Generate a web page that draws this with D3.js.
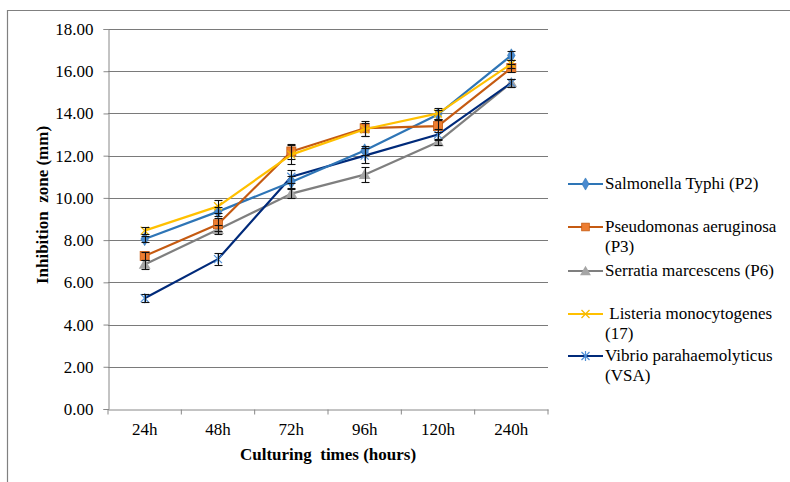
<!DOCTYPE html>
<html><head><meta charset="utf-8">
<script src="https://cdn.jsdelivr.net/npm/d3@7"></script>
<style>body{margin:0;background:#fff}svg{display:block}svg text{font-family:"Liberation Serif","Times New Roman","DejaVu Serif",serif !important}</style>
</head><body><svg id="c" width="790" height="482"></svg>
<script>
const categories = ["24h","48h","72h","96h","120h","240h"];
const legendLines = [["Salmonella Typhi (P2)"],["Pseudomonas aeruginosa","(P3)"],["Serratia marcescens (P6)"],[" Listeria monocytogenes","(17)"],["Vibrio parahaemolyticus","(VSA)"]];
const salmonella = [8.05, 9.35, 10.75, 12.25, 13.95, 16.75];
const pseudomonas = [7.25, 8.75, 12.2, 13.3, 13.4, 16.15];
const serratia = [6.85, 8.5, 10.2, 11.1, 12.65, 15.45];
const listeria = [8.45, 9.6, 12.05, 13.25, 14.0, 16.35];
const vibrio = [5.25, 7.1, 11.0, 12.0, 13.0, 15.45];
const errSalmonella = [0.15, 0.2, 0.3, 0.2, 0.2, 0.2];
const errPseudomonas = [0.2, 0.3, 0.35, 0.35, 0.3, 0.2];
const errSerratia = [0.2, 0.2, 0.2, 0.35, 0.15, 0.2];
const errListeria = [0.15, 0.3, 0.45, 0.3, 0.25, 0.2];
const errVibrio = [0.2, 0.3, 0.3, 0.35, 0.25, 0.2];
const yTicks = [0,2,4,6,8,10,12,14,16,18];

const values = [salmonella, pseudomonas, serratia, listeria, vibrio];
const errs = [errSalmonella, errPseudomonas, errSerratia, errListeria, errVibrio];
const lineColors = ["#2E75B6","#C55A11","#7F7F7F","#FFC000","#002A7A"];
const markerColors = ["#4A8BD0","#ED7D31","#A5A5A5","#F5B800","#4F8FD6"];
const markerTypes = ["diamond","square","triangle","x","star"];
const FONT = "'Liberation Serif', 'Times New Roman', serif";
const FS = 17;

const svg = d3.select("#c");
const L = 108, R = 548, T = 29, B = 409;
const x = d3.scaleBand().domain(categories).range([L, R]);
const y = d3.scaleLinear().domain([0, 18]).range([B, T]);

// outer border
svg.append("path").attr("d","M7.5,490V10.5H800").attr("fill","none").attr("stroke","#808080").attr("stroke-width",1.2);

// gridlines
svg.append("g").selectAll("line").data(yTicks.filter(d=>d>0)).join("line")
  .attr("x1",L).attr("x2",R).attr("y1",d=>Math.round(y(d))+0.5).attr("y2",d=>Math.round(y(d))+0.5)
  .attr("stroke","#7a7a7a").attr("stroke-width",1);

// y axis
const ya = svg.append("g").attr("transform",`translate(${L+0.5},0)`)
  .call(d3.axisLeft(y).tickValues(yTicks).tickFormat(d3.format(".2f")).tickSize(5).tickPadding(10));
ya.attr("font-family",FONT);
ya.select(".domain").attr("stroke","#888");
ya.selectAll(".tick line").attr("stroke","#888");
ya.selectAll("text").attr("font-size",FS).style("font-family",FONT).attr("fill","#000");

// x axis
const xa = svg.append("g").attr("transform",`translate(0,${B+0.5})`)
  .call(d3.axisBottom(x).tickSize(0).tickPadding(13));
xa.attr("font-family",FONT);
xa.select(".domain").attr("stroke","#888");
xa.selectAll("text").attr("font-size",FS).style("font-family",FONT).attr("fill","#000");
xa.append("g").selectAll("line").data(d3.range(categories.length+1)).join("line")
  .attr("x1",i=>L+i*x.step()).attr("x2",i=>L+i*x.step()).attr("y1",0).attr("y2",5).attr("stroke","#888");

// axis titles
svg.append("text").attr("x",328).attr("y",460).attr("text-anchor","middle").attr("font-weight","bold").attr("font-size",FS)
  .style("font-family",FONT).style("white-space","pre").text("Culturing  times (hours)");
svg.append("text").attr("transform","translate(48,205) rotate(-90)").attr("text-anchor","middle").attr("font-weight","bold").attr("font-size",FS)
  .style("font-family",FONT).style("white-space","pre").text("Inhibition  zone (mm)");

function marker(g, type, fill, stroke, cx, cy, s) {
  if (type==="diamond") g.append("path").attr("d",d3.symbol(d3.symbolDiamond, 50*s)()).attr("transform",`translate(${cx},${cy})`).attr("fill",fill).attr("stroke",stroke).attr("stroke-width",0.6);
  else if (type==="square") g.append("rect").attr("x",cx-4.5*s).attr("y",cy-4.5*s).attr("width",9*s).attr("height",9*s).attr("fill",fill).attr("stroke","#C55A11").attr("stroke-width",0.8);
  else if (type==="triangle") g.append("path").attr("d",d3.symbol(d3.symbolTriangle, 60*s)()).attr("transform",`translate(${cx},${cy+1})`).attr("fill",fill);
  else if (type==="x") g.append("path").attr("d",`M${cx-4},${cy-4}L${cx+4},${cy+4}M${cx-4},${cy+4}L${cx+4},${cy-4}`).attr("stroke",fill).attr("stroke-width",1.3);
  else if (type==="star") g.append("path").attr("d",`M${cx-4},${cy-4}L${cx+4},${cy+4}M${cx-4},${cy+4}L${cx+4},${cy-4}M${cx},${cy-5}L${cx},${cy+5}`).attr("stroke",fill).attr("stroke-width",1.2);
}

const line = d3.line().x((d,i)=>x(categories[i])+x.bandwidth()/2).y(d=>y(d));
const order = [2,4,0,1,3];
order.forEach(si=>{
  const g = svg.append("g");
  g.append("path").datum(values[si]).attr("d",line).attr("fill","none").attr("stroke",lineColors[si]).attr("stroke-width",2.2).attr("stroke-linejoin","round");
  values[si].forEach((v,i)=>{
    const cx = x(categories[i])+x.bandwidth()/2, cy = y(v);
    marker(g, markerTypes[si], markerColors[si], lineColors[si], cx, cy, 1);
  });
});
// error bars
order.forEach(si=>{
  const g = svg.append("g").attr("stroke","#111").attr("stroke-width",1.1);
  values[si].forEach((v,i)=>{
    const cx = Math.round(x(categories[i])+x.bandwidth()/2)+0.5;
    const e = errs[si][i];
    const y1 = Math.round(y(v+e))+0.5, y2 = Math.round(y(v-e))+0.5;
    g.append("line").attr("x1",cx).attr("x2",cx).attr("y1",y1).attr("y2",y2);
    g.append("line").attr("x1",cx-4).attr("x2",cx+4).attr("y1",y1).attr("y2",y1);
    g.append("line").attr("x1",cx-4).attr("x2",cx+4).attr("y1",y2).attr("y2",y2);
  });
});

// legend
const legY = [184, 227, 271, 314, 356];
legendLines.forEach((lines,si)=>{
  const g = svg.append("g");
  const ly = legY[si];
  g.append("line").attr("x1",568).attr("x2",603).attr("y1",ly).attr("y2",ly).attr("stroke",lineColors[si]).attr("stroke-width",2.2);
  marker(g, markerTypes[si], markerColors[si], lineColors[si], 585.5, ly, 0.85);
  const t = g.append("text").attr("x",605).attr("y",ly+5).attr("font-size",FS).style("font-family",FONT).style("white-space","pre");
  lines.forEach((s,k)=>t.append("tspan").attr("x",605).attr("dy",k===0?0:20).text(s));
});
</script></body></html>
